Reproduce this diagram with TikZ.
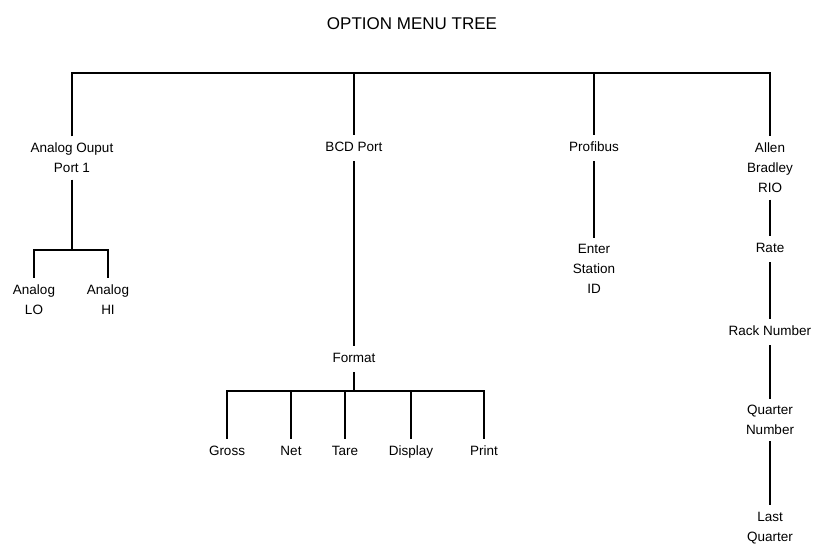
\documentclass[tikz,border=0pt]{standalone}
\usepackage{fontspec}
\setmainfont{Liberation Sans}
\tikzset{
  lbl/.style={align=center, inner xsep=2pt, inner ysep=6pt, font=\fontsize{13.5}{20}\selectfont},
  one/.style={lbl, text height=10pt, text depth=3pt},
  ttl/.style={font=\fontsize{17}{20}\selectfont}
}

\begin{document}
\begin{tikzpicture}[x=1pt,y=-1pt,line width=1.4pt]
	\useasboundingbox (0,0) rectangle (814,544);
	\node[ttl] (title) at (412,24) {OPTION MENU TREE};
	\coordinate (bar) at (0,73);
	\coordinate (asplit) at (0,250);
	\coordinate (fsplit) at (0,391);

	\node[lbl] (aop) at (72,158) {Analog Ouput\\Port 1};
	\node[one] (bcd) at (354,148) {BCD Port};
	\node[one] (prof) at (594,148) {Profibus};
	\node[lbl] (ab) at (770,168) {Allen\\Bradley\\RIO};

	\node[lbl] (alo) at (34,299.5) {Analog\\LO};
	\node[lbl] (ahi) at (108,299.5) {Analog\\HI};

	\node[one] (fmt) at (354,359) {Format};
	\node[one] (gross) at (227,452) {Gross};
	\node[one] (net) at (291,452) {Net};
	\node[one] (tare) at (345,452) {Tare};
	\node[one] (disp) at (411,452) {Display};
	\node[one] (print) at (484,452) {Print};

	\node[lbl] (esid) at (594,269) {Enter\\Station\\ID};

	\node[one] (rate) at (770,249) {Rate};
	\node[one] (rack) at (770,332) {Rack Number};
	\node[lbl] (qnum) at (770,420) {Quarter\\Number};
	\node[lbl] (lastq) at (770,528) {Last\\Quarter};

	\draw (aop.north) -- (aop.north |- bar) -- (ab.north |- bar) -- (ab.north);
	\draw (bcd.north) -- (bcd.north |- bar);
	\draw (prof.north) -- (prof.north |- bar);

	\draw (aop.south) -- (aop.south |- asplit);
	\draw (alo.north) -- (alo.north |- asplit) -- (ahi.north |- asplit) -- (ahi.north);

	\draw (bcd.south) -- (fmt.north);
	\draw (fmt.south) -- (fmt.south |- fsplit);
	\draw (gross.north) -- (gross.north |- fsplit) -- (print.north |- fsplit) -- (print.north);
	\foreach \n in {net,tare,disp}
		\draw (\n.north) -- (\n.north |- fsplit);

	\draw (prof.south) -- (esid.north);

	\draw (ab.south) -- (rate.north);
	\draw (rate.south) -- (rack.north);
	\draw (rack.south) -- (qnum.north);
	\draw (qnum.south) -- (lastq.north);
\end{tikzpicture}
\end{document}
